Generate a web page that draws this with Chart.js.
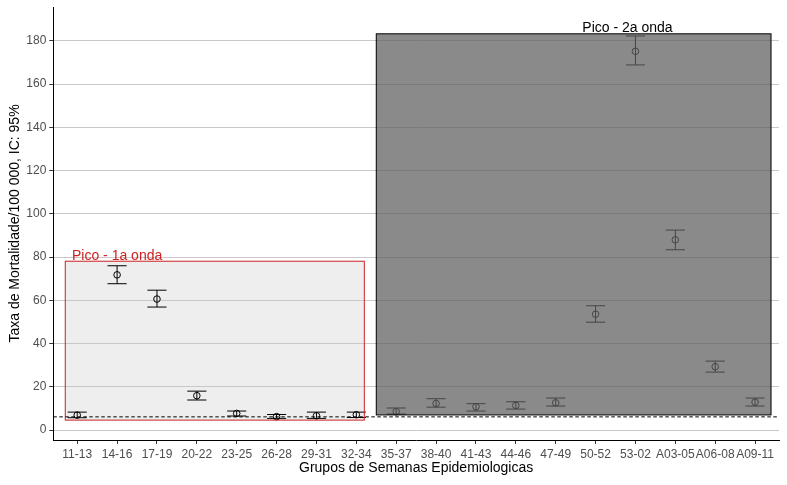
<!DOCTYPE html>
<html>
<head>
<meta charset="utf-8">
<script src="https://cdn.jsdelivr.net/npm/chart.js@4"></script>
<style>
  body { margin: 0; background: #fff; }
  canvas { display: block; }
</style>
</head>
<body>
<canvas id="grafico" width="787" height="485"></canvas>
<script>
// dados
const semanas = ['11-13', '14-16', '17-19', '20-22', '23-25', '26-28', '29-31', '32-34', '35-37',
  '38-40', '41-43', '44-46', '47-49', '50-52', '53-02', 'A03-05', 'A06-08', 'A09-11'];
const taxa  = [6.9, 71.8, 60.6, 15.9, 7.7, 6.2, 6.6, 7.1, 8.5, 12.3, 10.8, 11.4, 12.6, 53.6, 175.2, 88.0, 29.3, 12.9];
const icInf = [5.7, 67.7, 56.9, 13.9, 6.5, 5.4, 5.4, 5.8, 7.4, 10.6, 8.8, 9.7, 11.1, 49.9, 168.9, 83.4, 26.8, 11.1];
const icSup = [8.3, 76.0, 64.7, 18.0, 8.8, 7.2, 8.3, 8.3, 10.2, 14.5, 12.2, 13.1, 14.8, 57.5, 182.3, 92.5, 31.9, 14.8];
const yTicks = [0, 20, 40, 60, 80, 100, 120, 140, 160, 180];

// caixas dos picos (x em posicoes de categoria, y em taxa)
const onda1X = [-0.3, 7.2], onda1Y = [4.6, 78.1];
const onda2X = [7.5, 17.4], onda2Y = [7.0, 183.3];
const rotulos = ['Pico - 1a onda', 'Pico - 2a onda'];
const rotuloX = [1.0, 13.8], rotuloY = [80.6, 186.1];
const limiar = 6.1;

const FONTE = "'Liberation Sans', Arial, sans-serif";

function caixa(ch, xs, ys) {
  const sx = ch.scales.x, sy = ch.scales.y;
  const x0 = sx.getPixelForValue(xs[0]), x1 = sx.getPixelForValue(xs[1]);
  const y0 = sy.getPixelForValue(ys[1]), y1 = sy.getPixelForValue(ys[0]);
  return [x0, y0, x1 - x0, y1 - y0];
}

const extras = {
  id: 'extras',
  beforeDraw(ch) {
    const ctx = ch.ctx;
    ctx.save();
    ctx.fillStyle = '#eeeeee';
    ctx.fillRect(...caixa(ch, onda1X, onda1Y));
    ctx.restore();
  },
  afterDatasetsDraw(ch) {
    const ctx = ch.ctx, sx = ch.scales.x, sy = ch.scales.y;
    const area = ch.chartArea;
    ctx.save();
    // barras de erro
    ctx.strokeStyle = '#000';
    ctx.lineWidth = 1;
    semanas.forEach((s, i) => {
      const x = sx.getPixelForValue(i);
      const xa = sx.getPixelForValue(i - 0.24), xb = sx.getPixelForValue(i + 0.24);
      const ya = sy.getPixelForValue(icSup[i]), yb = sy.getPixelForValue(icInf[i]);
      ctx.beginPath();
      ctx.moveTo(x, ya); ctx.lineTo(x, yb);
      ctx.moveTo(xa, ya); ctx.lineTo(xb, ya);
      ctx.moveTo(xa, yb); ctx.lineTo(xb, yb);
      ctx.stroke();
    });
    // borda vermelha 1a onda
    ctx.strokeStyle = '#cc2222';
    ctx.strokeRect(...caixa(ch, onda1X, onda1Y));
    // caixa 2a onda
    ctx.fillStyle = 'rgba(94,94,94,0.725)';
    ctx.fillRect(...caixa(ch, onda2X, onda2Y));
    ctx.strokeStyle = '#000';
    ctx.strokeRect(...caixa(ch, onda2X, onda2Y));
    // linha tracejada
    const yl = sy.getPixelForValue(limiar);
    ctx.setLineDash([3.5, 2.5]);
    ctx.beginPath();
    ctx.moveTo(area.left, yl); ctx.lineTo(area.right, yl);
    ctx.stroke();
    ctx.setLineDash([]);
    // rotulos
    ctx.font = '14px ' + FONTE;
    ctx.textAlign = 'center';
    ctx.textBaseline = 'middle';
    ['#cc2222', '#000'].forEach((cor, k) => {
      ctx.fillStyle = cor;
      ctx.fillText(rotulos[k], sx.getPixelForValue(rotuloX[k]), sy.getPixelForValue(rotuloY[k]));
    });
    ctx.restore();
  }
};

new Chart(document.getElementById('grafico'), {
  type: 'scatter',
  data: {
    datasets: [{
      data: taxa.map((v, i) => ({ x: i, y: v })),
      pointStyle: 'circle',
      pointRadius: 3.3,
      pointBorderColor: '#000',
      pointBackgroundColor: 'rgba(0,0,0,0)',
      pointBorderWidth: 1,
      showLine: false
    }]
  },
  options: {
    responsive: false,
    animation: false,
    devicePixelRatio: 1,
    layout: { padding: { top: 7, right: 8, left: 0, bottom: 0 } },
    plugins: { legend: { display: false }, tooltip: { enabled: false } },
    scales: {
      x: {
        type: 'linear',
        min: -0.6,
        max: 17.6,
        afterBuildTicks(s) { s.ticks = semanas.map((c, i) => ({ value: i })); },
        afterFit(s) { s.height = 45; s.paddingLeft = 0; s.paddingRight = 0; },
        grid: { drawOnChartArea: false, tickLength: 4, tickColor: '#333', color: '#333' },
        border: { color: '#000', width: 1 },
        ticks: {
          autoSkip: false, maxRotation: 0, padding: 3,
          color: '#4d4d4d', font: { family: FONTE, size: 12 },
          callback: (v) => semanas[v]
        },
        title: {
          display: true, text: 'Grupos de Semanas Epidemiologicas', color: '#000',
          font: { family: FONTE, size: 14 }, padding: { top: 0, bottom: 8 }
        }
      },
      y: {
        min: -4.6,
        max: 195.7,
        afterBuildTicks(s) { s.ticks = yTicks.map(v => ({ value: v })); },
        afterFit(s) { s.width = 53.3; s.paddingTop = 0; s.paddingBottom = 0; },
        grid: { color: '#c8c8c8', tickColor: '#333', tickLength: 4, lineWidth: 1 },
        border: { color: '#000', width: 1 },
        ticks: { padding: 3, color: '#4d4d4d', font: { family: FONTE, size: 12 } },
        title: {
          display: true, text: 'Taxa de Mortalidade/100 000, IC: 95%', color: '#000',
          font: { family: FONTE, size: 14 }, padding: { top: 7, bottom: 0 }
        }
      }
    }
  },
  plugins: [extras]
});
</script>
</body>
</html>
